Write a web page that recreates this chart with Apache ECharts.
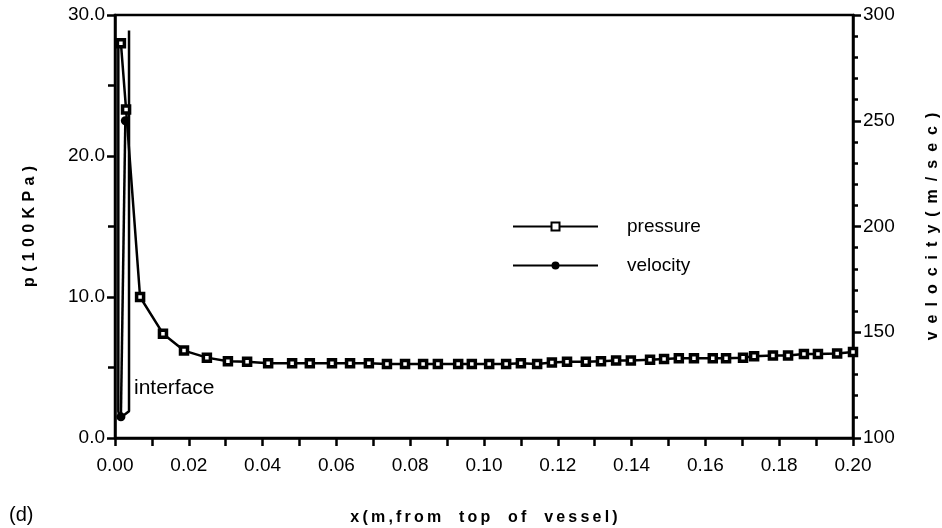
<!DOCTYPE html>
<html>
<head>
<meta charset="utf-8">
<script src="https://cdn.jsdelivr.net/npm/echarts@6/dist/echarts.min.js"></script>
<style>
  html, body { margin: 0; padding: 0; background: #fff; overflow: hidden; }
  #chart { width: 942px; height: 528px; }
</style>
</head>
<body>
<div id="chart"></div>
<script>
// pressure (100 kPa) along the vessel
const pressureX = [0.0016, 0.003, 0.0068, 0.013, 0.0187, 0.0249, 0.0306, 0.0358, 0.0415, 0.048,
  0.0528, 0.0588, 0.0637, 0.0688, 0.0737, 0.0786, 0.0835, 0.0875, 0.093, 0.0967,
  0.1014, 0.106, 0.110, 0.1144, 0.1184, 0.1225, 0.1276, 0.1317, 0.1358, 0.1398,
  0.145, 0.1488, 0.1528, 0.1569, 0.162, 0.1656, 0.1702, 0.1732, 0.1783, 0.1824,
  0.1867, 0.1905, 0.1957, 0.200];
const pressureY = [28.0, 23.3, 10.0, 7.4, 6.2, 5.7, 5.45, 5.4, 5.3, 5.3,
  5.3, 5.3, 5.3, 5.3, 5.25, 5.25, 5.25, 5.25, 5.25, 5.25,
  5.25, 5.25, 5.3, 5.25, 5.35, 5.4, 5.4, 5.45, 5.5, 5.5,
  5.55, 5.6, 5.65, 5.65, 5.65, 5.65, 5.7, 5.8, 5.85, 5.85,
  5.95, 5.95, 6.0, 6.1];

// velocity (m/sec)
const velocityX = [0.0016, 0.0028];
const velocityY = [110, 250];

// interface outline (in pressure units)
const interfaceX = [0.0009, 0.0009, 0.0013, 0.0038, 0.0038];
const interfaceY = [27.8, 1.9, 1.4, 1.9, 28.9];

const xTicks = { min: 0, max: 0.2, step: 0.02 };
const pTicks = { min: 0, max: 30, step: 10 };
const vTicks = { min: 100, max: 300, step: 50 };

const font = "'Liberation Sans', Arial, Helvetica, sans-serif";
const spaced = (s, sp) => s.split('').join(sp);

const zip = (a, b) => a.map((v, i) => [v, b[i]]);

const axisCommon = {
  axisLine: { show: true, lineStyle: { color: '#000', width: 2.5 } },
  axisTick: { show: true, inside: false, length: 8, lineStyle: { color: '#000', width: 2.5 } },
  minorTick: { show: true, length: 7, lineStyle: { color: '#000', width: 2.5 } },
  splitLine: { show: false },
  minorSplitLine: { show: false },
  nameTextStyle: { color: '#000', fontFamily: font, fontWeight: 'bold', fontSize: 16 }
};

const tickText = { color: '#000', fontFamily: font, fontSize: 19 };

const xName = 'x(m,from top of vessel)'.split(' ').map(w => spaced(w, '\u2009')).join('    ');

const chart = echarts.init(document.getElementById('chart'));

chart.setOption({
  animation: false,
  backgroundColor: '#fff',
  grid: {
    left: 115, right: 89, top: 15, bottom: 90,
    outerBoundsMode: 'none',
    show: true, borderColor: '#000', borderWidth: 2.5
  },
  legend: {
    orient: 'vertical',
    left: 507, top: 212,
    itemWidth: 85, itemHeight: 10, itemGap: 20,
    data: ['pressure', 'velocity'],
    textStyle: { color: '#000', fontFamily: font, fontSize: 19, padding: [0, 0, 0, 24] }
  },
  xAxis: Object.assign({}, axisCommon, {
    type: 'value',
    min: xTicks.min, max: xTicks.max, interval: xTicks.step,
    minorTick: Object.assign({}, axisCommon.minorTick, { splitNumber: 2, length: 8 }),
    axisLabel: Object.assign({}, tickText, { margin: 18, formatter: v => v.toFixed(2) }),
    name: xName,
    nameLocation: 'middle', nameGap: 72
  }),
  yAxis: [
    Object.assign({}, axisCommon, {
      type: 'value', position: 'left',
      min: pTicks.min, max: pTicks.max, interval: pTicks.step,
      minorTick: Object.assign({}, axisCommon.minorTick, { splitNumber: 2 }),
      axisLabel: Object.assign({}, tickText, { margin: 10, formatter: v => v.toFixed(1) }),
      name: spaced('p(100KPa)', '\u2004'),
      nameLocation: 'middle', nameGap: 77, nameRotate: 90
    }),
    Object.assign({}, axisCommon, {
      type: 'value', position: 'right',
      min: vTicks.min, max: vTicks.max, interval: vTicks.step,
      minorTick: Object.assign({}, axisCommon.minorTick, { splitNumber: 5, length: 5 }),
      axisLabel: Object.assign({}, tickText, { margin: 10 }),
      name: spaced('velocity(m/sec)', '\u2002'),
      nameLocation: 'middle', nameGap: 72, nameRotate: 90
    })
  ],
  graphic: [
    { type: 'text', left: 134, top: 378,
      style: { text: 'interface', fill: '#000', font: '21px ' + font } },
    { type: 'text', left: 9, top: 505,
      style: { text: '(d)', fill: '#000', font: '20px ' + font } }
  ],
  series: [
    {
      name: 'interface', type: 'line', yAxisIndex: 0,
      data: zip(interfaceX, interfaceY),
      showSymbol: false, symbol: 'none',
      lineStyle: { color: '#000', width: 2.5 },
      silent: true, z: 1
    },
    {
      name: 'pressure', type: 'line', yAxisIndex: 0,
      data: zip(pressureX, pressureY),
      symbol: 'rect', symbolSize: 7, showSymbol: true,
      itemStyle: { color: '#fff', borderColor: '#000', borderWidth: 3.5 },
      lineStyle: { color: '#000', width: 2.5 },
      z: 3
    },
    {
      name: 'velocity', type: 'line', yAxisIndex: 1,
      data: zip(velocityX, velocityY),
      symbol: 'circle', symbolSize: 9, showSymbol: true,
      itemStyle: { color: '#000', borderColor: '#000', borderWidth: 0 },
      lineStyle: { color: '#000', width: 2.5 },
      z: 2
    }
  ]
});
</script>
</body>
</html>
